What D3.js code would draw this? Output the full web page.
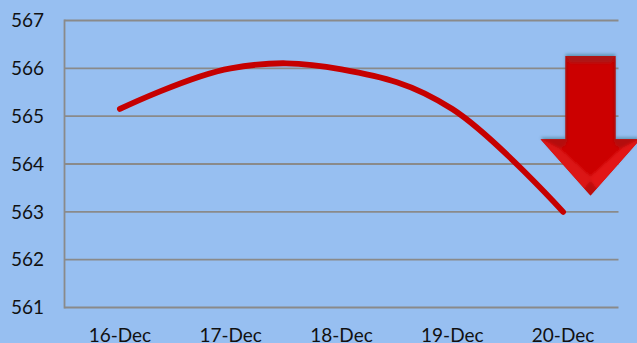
<!DOCTYPE html>
<html><head><meta charset="utf-8">
<script src="https://cdn.jsdelivr.net/npm/d3@7"></script>
<style>html,body{margin:0;padding:0;background:#97BFF1;overflow:hidden}svg{display:block}text{font-family:Lato,"Open Sans",sans-serif;fill:#111}</style>
</head><body><svg id="c" width="637" height="343"></svg>
<script>
const categories=["16-Dec","17-Dec","18-Dec","19-Dec","20-Dec"];
const values=[565.15,566.0,565.98,565.15,563.0];
const yTicks=[561,562,563,564,565,566,567];
const arrowValues={top:566.26,shoulder:564.52,tip:563.34};
const svg=d3.select("#c");
const x=d3.scaleBand().domain(categories).range([64.5,618.5]);
const y=d3.scaleLinear().domain([561,567]).range([307.5,20.5]);
const cx=d=>x(d)+x.bandwidth()/2;
svg.append("g").selectAll("line").data(yTicks).join("line")
 .attr("x1",64.5).attr("x2",618.5).attr("y1",d=>y(d)).attr("y2",d=>y(d))
 .attr("stroke","#8A8A8A").attr("stroke-width",1.8);
svg.append("line").attr("x1",64.5).attr("x2",64.5).attr("y1",y(567)-.9).attr("y2",y(561)+.9).attr("stroke","#8A8A8A").attr("stroke-width",1.8);
svg.append("g").selectAll("text").data(yTicks).join("text")
 .attr("x",44).attr("y",d=>y(d)+6.8).attr("text-anchor","end").attr("font-size",19).text(d=>d);
svg.append("g").selectAll("text").data(categories).join("text")
 .attr("x",cx).attr("y",342).attr("text-anchor","middle").attr("font-size",19).text(d=>d);
const line=d3.line().x((d,i)=>cx(categories[i])).y(d=>y(d)).curve(d3.curveCardinal.tension(-0.1));
svg.append("path").attr("d",line(values)).attr("fill","none").attr("stroke","#C60000").attr("stroke-width",5.8).attr("stroke-linecap","round");
// arrow
const defs=svg.append("defs");
const f=defs.append("filter").attr("id","glow").attr("x","-20%").attr("y","-20%").attr("width","140%").attr("height","140%");
f.append("feGaussianBlur").attr("stdDeviation",1.8);
const soft=defs.append("filter").attr("id","soft").attr("x","-20%").attr("y","-20%").attr("width","140%").attr("height","140%");
soft.append("feGaussianBlur").attr("stdDeviation",1.6);
const ax=cx("20-Dec")+27.4, T=y(arrowValues.top), S=y(arrowValues.shoulder), P=y(arrowValues.tip);
const pts=[[ax-25,T],[ax+25,T],[ax+25,S],[ax+50,S],[ax,P],[ax-50,S],[ax-25,S]];
const poly=d3.line();
defs.append("clipPath").attr("id","arrowClip").append("path").attr("d",poly(pts)+"Z");
svg.append("path").attr("d",poly(pts)+"Z").attr("fill","#2F6F7F").attr("opacity",.5).attr("transform","translate(0,-2)").attr("filter","url(#glow)");
svg.append("path").attr("d",poly(pts)+"Z").attr("fill","#CC0000");
const g=svg.append("g").attr("clip-path","url(#arrowClip)").append("g").attr("filter","url(#soft)");
g.append("path").attr("d",poly([[ax-28,T-3],[ax+28,T-3],[ax+20,T+7],[ax-20,T+7]])+"Z").attr("fill","#AE1212");
g.append("path").attr("d",poly([[ax-28,T],[ax-23.5,T+4],[ax-23.5,S+3],[ax-28,S+3]])+"Z").attr("fill","#A80808");
g.append("path").attr("d",poly([[ax+28,T],[ax+23.5,T+4],[ax+23.5,S+3],[ax+28,S+3]])+"Z").attr("fill","#A80808");
for(const s of [-1,1]){
 const wing=[ax+s*52,S-2], inner=[ax+s*25,S-2], dip=[ax+s*31,S+9];
 g.append("path").attr("d",poly([wing,inner,[ax+s*25,S+6],dip])+"Z").attr("fill","#B41010");
 g.append("path").attr("d",poly([wing,dip,[ax,P-19],[ax,P-6],[ax+s*6,P+2]])+"Z").attr("fill",s<0?"#DC1414":"#E21818");
}
g.append("path").attr("d",poly([[ax,P-15],[ax+9,P-3],[ax,P+3],[ax-9,P-3]])+"Z").attr("fill","#BC0A0A");
</script></body></html>
